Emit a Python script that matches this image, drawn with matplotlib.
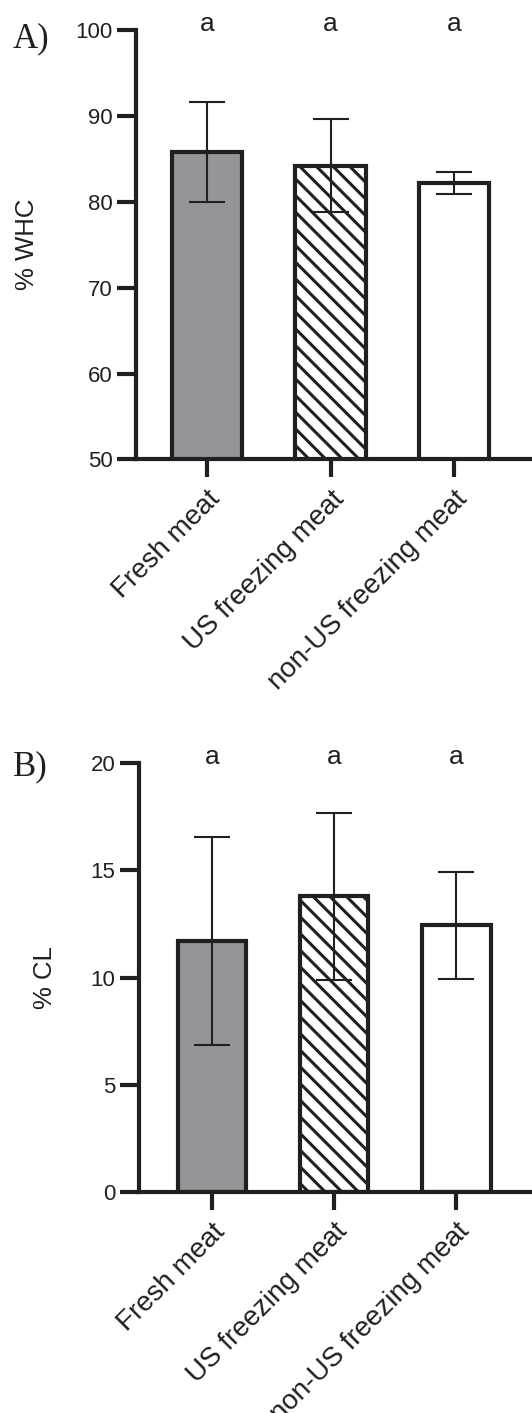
import numpy as np
import matplotlib
matplotlib.use("Agg")
import matplotlib.pyplot as plt
from matplotlib.transforms import ScaledTranslation

plt.rcParams['font.family'] = ['Liberation Sans', 'DejaVu Sans']
plt.rcParams['hatch.linewidth'] = 2.2

# Data
groups = ['Fresh meat', 'US freezing meat', 'non-US freezing meat']
whc_mean = [85.8, 84.2, 82.2]
whc_sd = [5.8, 5.4, 1.3]
cl_mean = [11.7, 13.8, 12.45]
cl_sd = [4.85, 3.9, 2.5]
letters_whc = ['a', 'a', 'a']
letters_cl = ['a', 'a', 'a']

dark = '#231f20'
fills = ['#939598', 'white', 'white']
hatches = ['', '\\\\', '']


def draw_panel(ax, means, sds, letters, ylim, yticks, ylabel, xlim, width, labelpad):
    x = np.arange(len(groups))
    for i in range(len(groups)):
        ax.bar(x[i], means[i], width=width, bottom=0, color=fills[i],
               edgecolor=dark, linewidth=3, hatch=hatches[i], zorder=2)
    ax.errorbar(x, means, yerr=sds, fmt='none', ecolor=dark, elinewidth=1.5,
                capsize=13, capthick=1.5, zorder=3)
    ax.set_ylim(*ylim)
    ax.set_xlim(*xlim)
    ax.set_yticks(yticks)
    ax.set_xticks(x)
    ax.set_xticklabels(groups, rotation=45, ha='right', va='top',
                       rotation_mode='anchor', fontsize=20)
    for lab in ax.get_xticklabels():
        lab.set_transform(lab.get_transform() +
                          ScaledTranslation(4 / 100, 0, ax.figure.dpi_scale_trans))
    ax.tick_params(axis='y', length=14, width=3, color=dark, labelsize=16,
                   pad=3, labelcolor=dark)
    ax.tick_params(axis='x', length=13, width=3, color=dark, pad=6,
                   labelcolor=dark)
    for side in ['top', 'right']:
        ax.spines[side].set_visible(False)
    for side in ['left', 'bottom']:
        ax.spines[side].set_linewidth(3)
        ax.spines[side].set_color(dark)
        ax.spines[side].set_zorder(4)
    ax.set_ylabel(ylabel, fontsize=18.5, labelpad=labelpad, color=dark)
    for i, s in enumerate(letters):
        ax.annotate(s, xy=(x[i], 1), xycoords=ax.get_xaxis_transform(),
                    xytext=(0, 4.5), textcoords='offset points',
                    ha='center', va='center', fontsize=19, color=dark,
                    annotation_clip=False)


fig = plt.figure(figsize=(5.32, 14.13), dpi=100)
ax_a = fig.add_axes([0.2556, 0.6749, 0.7444, 0.3038])
ax_b = fig.add_axes([0.2613, 0.1564, 0.7387, 0.3034])

draw_panel(ax_a, whc_mean, whc_sd, letters_whc, (50, 100),
           [50, 60, 70, 80, 90, 100], '% WHC', (-0.575, 2.63), 0.57, 26)
draw_panel(ax_b, cl_mean, cl_sd, letters_cl, (0, 20),
           [0, 5, 10, 15, 20], '% CL', (-0.6, 2.62), 0.56, 24)

fig.text(0.024, 0.9667, 'A)', family=['Liberation Serif', 'DejaVu Serif'],
         fontsize=25, va='baseline', ha='left', color=dark)
fig.text(0.024, 0.4515, 'B)', family=['Liberation Serif', 'DejaVu Serif'],
         fontsize=25, va='baseline', ha='left', color=dark)

fig.savefig('out.png', dpi=100)
